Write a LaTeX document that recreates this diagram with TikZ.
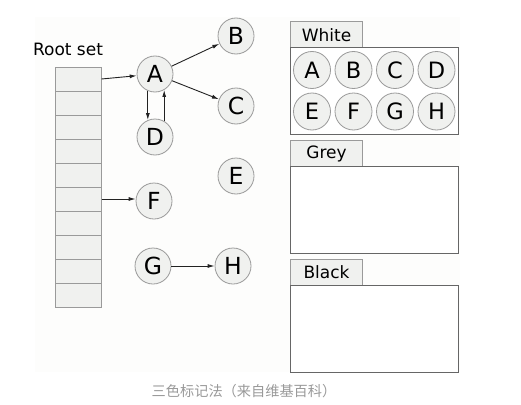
\documentclass[tikz,border=0pt]{standalone}
\usepackage{fontspec}
\setmainfont{DejaVu Sans}
\newfontfamily\cjk{Noto Sans CJK SC}
\usetikzlibrary{arrows.meta}
\definecolor{cfill}{HTML}{F0F1EF}
\definecolor{cline}{HTML}{9A9A9A}
\definecolor{boxline}{HTML}{666666}
\definecolor{arrcol}{HTML}{222222}
\definecolor{bgpaper}{HTML}{FDFDFC}
\definecolor{captcol}{HTML}{999999}
\begin{document}
\begin{tikzpicture}[x=1pt,y=-1pt,
  obj/.style={circle,draw=cline,fill=cfill,line width=0.8pt,minimum size=36pt,inner sep=0pt,
    font=\fontsize{23.5}{27}\selectfont},
  sobj/.style={obj,minimum size=37pt,font=\fontsize{22.5}{26}\selectfont},
  cell/.style={rectangle,draw=cline,fill=cfill,line width=1pt,minimum width=46pt,minimum height=24pt,inner sep=0pt},
  tab/.style={rectangle,draw=cline,fill=cfill,line width=1pt,minimum width=72pt,minimum height=27pt,inner sep=0pt,
    font=\fontsize{17}{20}\selectfont},
  setbox/.style={draw=boxline,fill=white,line width=1pt},
  arr/.style={draw=arrcol,line width=0.9pt,-{Latex[length=7pt,width=4pt]}},
  lbl/.style={font=\fontsize{17}{20}\selectfont}]
\useasboundingbox (0,0) rectangle (521,404);
\fill[bgpaper] (35,17) rectangle (460,372);
% root set
\node[lbl] (rootlbl) at (68,49) {Root set};
\foreach \i in {1,...,10} {
  \node[cell] (r\i) at (78,{67+24*\i-12}) {};
}
% objects
\node[obj] (A) at (155,74) {A};
\node[obj] (B) at (236,36) {B};
\node[obj] (C) at (236,106) {C};
\node[obj] (D) at (155,137) {D};
\node[obj] (E) at (236,176) {E};
\node[obj] (F) at (154,201) {F};
\node[obj] (G) at (153,266) {G};
\node[obj] (H) at (233,266) {H};
% references
\draw[arr] (r1.east) -- (A);
\draw[arr] (r6.east) -- (r6.east -| F.west);
\draw[arr] (A) -- (B);
\draw[arr] (A) -- (C);
\draw[arr] (A.247) -- (D.113);
\draw[arr] (D.60) -- (A.300);
\draw[arr] (G) -- (H);
% white set
\node[tab,anchor=north west] (wtab) at (290,21) {White};
\draw[setbox] (290,48) rectangle (458,134);
\node[sobj] (wA) at (312,70) {A};
\node[sobj] (wB) at (353.5,70) {B};
\node[sobj] (wC) at (395,70) {C};
\node[sobj] (wD) at (436.5,70) {D};
\node[sobj] (wE) at (312,111.5) {E};
\node[sobj] (wF) at (353.5,111.5) {F};
\node[sobj] (wG) at (395,111.5) {G};
\node[sobj] (wH) at (436.5,111.5) {H};
% grey set
\node[tab,anchor=north west] (gtab) at (290,139.5) {Grey};
\draw[setbox] (290,166.5) rectangle (458,253);
% black set
\node[tab,anchor=north west] (btab) at (290,258.5) {Black};
\draw[setbox] (290,285.5) rectangle (458,372);
% caption
\node[text=captcol,font=\cjk\fontsize{14.2}{16}\selectfont] (cap) at (244,391) {三色标记法（来自维基百科）};
\end{tikzpicture}
\end{document}
